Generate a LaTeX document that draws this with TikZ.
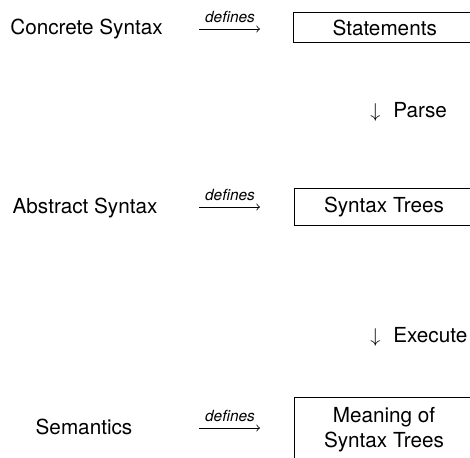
\documentclass[tikz,border=0pt]{standalone}
\usepackage{fontspec}
\setmainfont{TeX Gyre Heros}
\begin{document}
\begin{tikzpicture}[x=0.5pt,y=-0.5pt,
  every node/.style={inner sep=0pt, font=\fontsize{10.35}{12.4}\selectfont},
  label/.style={anchor=base},
  result/.style={anchor=base},
  defarrow/.style={-to, line width=0.4pt},
  deflabel/.style={anchor=base, font=\fontsize{7.7}{9}\selectfont\itshape},
  frame/.style={draw, line width=0.5pt},
  transition/.style={anchor=base west}]
\useasboundingbox (0,0) rectangle (470,458);
\clip (0,0) rectangle (470,458);

% layer 1: concrete syntax
\node[label] (cs) at (86.5,35) {Concrete Syntax};
\draw[frame] (293,13) rectangle (490,43);
\node[result] (st) at (384.7,36) {Statements};
\coordinate (a1s) at (199,29);
\coordinate (a1e) at (260,29);
\draw[defarrow] (a1s) -- (a1e);
\node[deflabel] (d1) at (230,23) {defines};

% parse step
\node[transition] (parse) at (370,118) {$\downarrow$\hspace{6.5pt}Parse};

% layer 2: abstract syntax
\node[label] (as) at (85,213.3) {Abstract Syntax};
\draw[frame] (294,189) rectangle (490,226);
\node[result] (tr) at (384,213) {Syntax Trees};
\coordinate (a2s) at (199,207);
\coordinate (a2e) at (260,207);
\draw[defarrow] (a2s) -- (a2e);
\node[deflabel] (d2) at (230,200.7) {defines};

% execute step
\node[transition] (exec) at (370,343) {$\downarrow$\hspace{6.5pt}Execute};

% layer 3: semantics
\node[label] (sem) at (84,434) {Semantics};
\draw[frame] (294,397) rectangle (490,480);
\node[align=center] (mean) at (384,429.5) {Meaning of\\[0pt]Syntax Trees};
\coordinate (a3s) at (199,428);
\coordinate (a3e) at (260,428);
\draw[defarrow] (a3s) -- (a3e);
\node[deflabel] (d3) at (230,421.7) {defines};
\end{tikzpicture}
\end{document}
